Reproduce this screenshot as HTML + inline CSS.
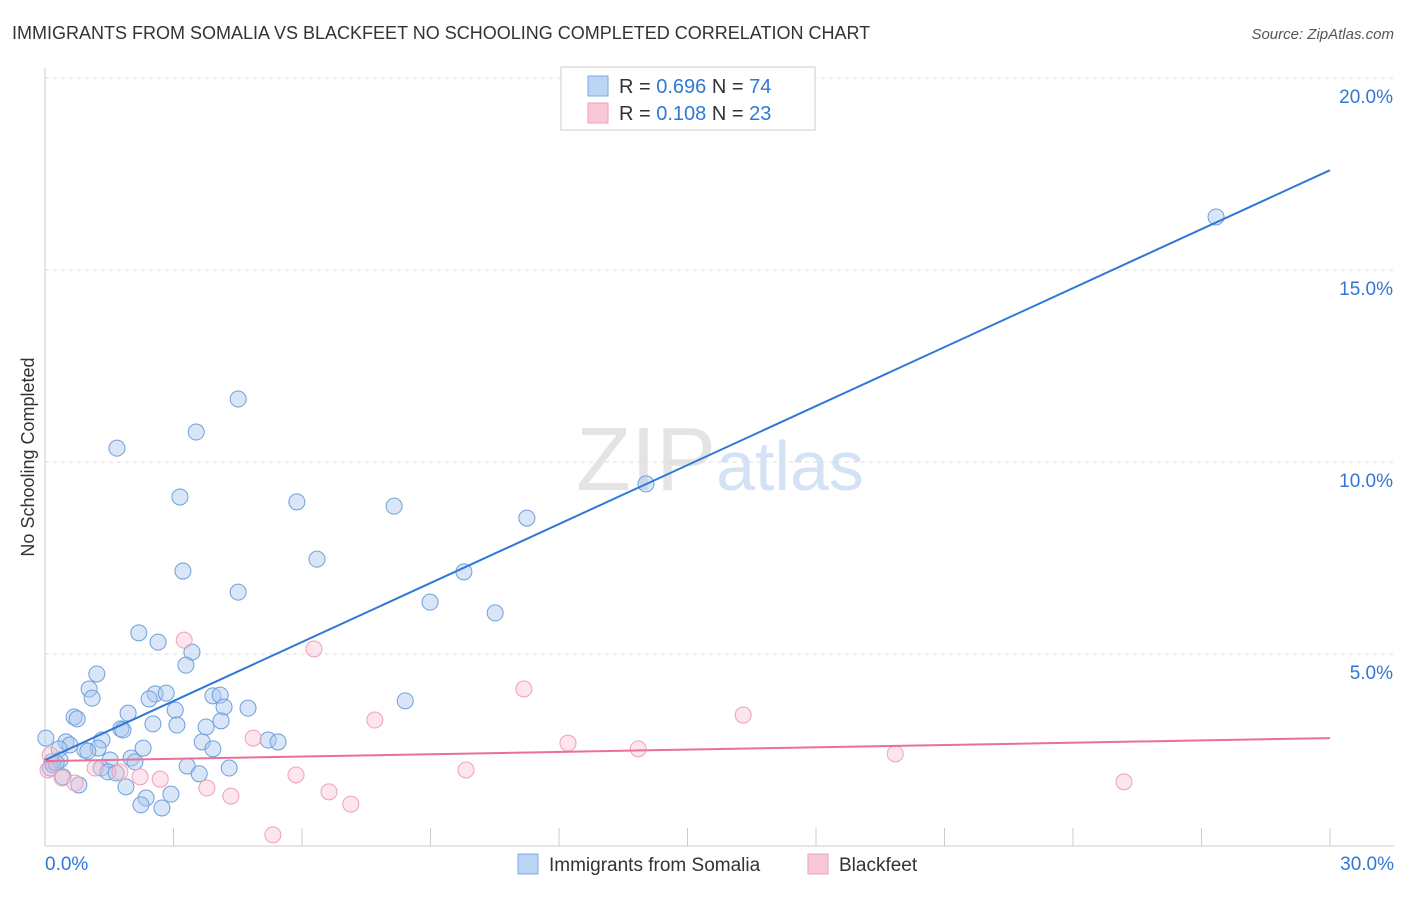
<!DOCTYPE html>
<html><head><meta charset="utf-8"><style>
body{margin:0;background:#fff;font-family:"Liberation Sans",sans-serif;}
svg text{font-family:"Liberation Sans",sans-serif;}
</style></head><body>
<svg id="chart" width="1406" height="892" xmlns="http://www.w3.org/2000/svg">
<text x="12" y="39" font-size="18" fill="#333">IMMIGRANTS FROM SOMALIA VS BLACKFEET NO SCHOOLING COMPLETED CORRELATION CHART</text>
<text x="1394" y="39" font-size="15" fill="#555" text-anchor="end" font-style="italic">Source: ZipAtlas.com</text>
<text x="720" y="490" font-size="90" text-anchor="middle" fill="#e4e4e4" font-family="Liberation Serif">ZIP<tspan fill="#d4e2f5" font-family="Liberation Sans" font-size="70">atlas</tspan></text>
<g id="grid"></g><g id="axes"></g><g id="points"></g><g id="lines"></g>
<text transform="translate(34,457) rotate(-90)" font-size="18" fill="#333" text-anchor="middle">No Schooling Completed</text>
<g>
<rect x="561" y="67" width="254" height="63" fill="#fff" stroke="#ccc"/>
<rect x="588" y="76" width="20" height="20" fill="#bcd5f5" stroke="#7aa8e0"/>
<rect x="588" y="103" width="20" height="20" fill="#f9c8d6" stroke="#f0a0b8"/>
<text x="619" y="93" font-size="20" fill="#333">R = <tspan fill="#2f78d8">0.696</tspan>   N = <tspan fill="#2f78d8">74</tspan></text>
<text x="619" y="120" font-size="20" fill="#333">R =  <tspan fill="#2f78d8">0.108</tspan>   N = <tspan fill="#2f78d8">23</tspan></text>
</g>
<g>
<rect x="518" y="854" width="20" height="20" fill="#bcd5f5" stroke="#7aa8e0"/>
<text x="549" y="871" font-size="19" fill="#333">Immigrants from Somalia</text>
<rect x="808" y="854" width="20" height="20" fill="#f9c8d6" stroke="#f0a0b8"/>
<text x="839" y="871" font-size="19" fill="#333">Blackfeet</text>
</g>
</svg>
<script>
const yTicks=[5,10,15,20];
const yTickLabels=["5.0%","10.0%","15.0%","20.0%"];
const xTickLabels=["0.0%","30.0%"];
const blueX=[27.34,14.03,11.25,8.15,5.88,3.15,4.51,3.53,1.68,6.35,3.22,4.51,9.78,8.99,10.51,2.19,2.64,3.43,3.29,1.21,1.03,1.10,2.57,2.83,2.43,3.92,4.09,4.18,4.74,3.04,1.94,0.68,0.75,8.41,1.77,1.82,2.52,3.08,3.76,4.11,0.02,0.49,0.58,1.33,1.24,0.93,1.00,0.33,2.29,3.67,3.92,5.21,5.44,2.01,2.10,1.52,0.35,0.16,0.12,1.31,1.47,1.66,3.32,3.60,4.30,1.89,2.36,2.94,2.24,2.73,0.19,0.26,0.79,0.42];
const blueY=[16.38,9.43,8.54,8.85,8.96,9.09,11.64,10.78,10.36,7.47,7.16,6.61,7.14,6.35,6.07,5.55,5.31,5.05,4.71,4.48,4.09,3.85,3.96,3.98,3.83,3.91,3.93,3.62,3.59,3.54,3.46,3.36,3.31,3.78,3.05,3.02,3.18,3.15,3.10,3.26,2.81,2.71,2.63,2.76,2.55,2.50,2.47,2.53,2.55,2.71,2.53,2.76,2.71,2.29,2.19,2.24,2.24,2.19,2.03,2.03,1.93,1.90,2.08,1.88,2.03,1.54,1.25,1.35,1.07,0.99,2.11,2.16,1.59,1.80];
const pinkX=[0.12,0.07,0.40,0.70,1.17,1.75,2.22,2.69,3.25,3.78,4.34,4.86,5.32,5.86,6.28,6.63,7.14,7.70,9.83,11.18,12.21,13.85,16.30,19.85,25.19];
const pinkY=[2.37,1.98,1.77,1.64,2.03,1.93,1.80,1.74,5.36,1.51,1.30,2.81,0.29,1.85,5.13,1.41,1.09,3.28,1.98,4.09,2.68,2.53,3.41,2.40,1.67];
const blueTrend=[2.24,17.6];
const pinkTrend=[2.21,2.81];
const NS="http://www.w3.org/2000/svg";
const X=v=>45+v*1285/30, Y=v=>846-v*38.4;
function mk(tag,attrs,parent){const e=document.createElementNS(NS,tag);for(const k in attrs)e.setAttribute(k,attrs[k]);document.getElementById(parent).appendChild(e);return e;}
yTicks.forEach((t,i)=>{
 const g=mk('line',{x1:45,x2:1394,y1:Y(t),y2:Y(t),stroke:'#ddd','stroke-dasharray':'4,4'},'grid');
 
 
 const tx=mk('text',{x:1393,y:Y(t)+25,'font-size':19,fill:'#2f78d8','text-anchor':'end'},'grid');
 tx.textContent=yTickLabels[i];
 
 
});
const ax=mk('line',{x1:45,x2:45,y1:68,y2:846,stroke:'#ccc'},'axes');


const bx=mk('line',{x1:45,x2:1394,y1:846,y2:846,stroke:'#ccc'},'axes');


for(let i=0;i<=10;i++){const l=mk('line',{x1:X(i*3),x2:X(i*3),y1:828,y2:846,stroke:'#ccc'},'axes');
 
 }
[[0,xTickLabels[0],'start',45],[30,xTickLabels[1],'end',1394]].forEach(a=>{const t=mk('text',{x:a[3],y:870,'font-size':19,fill:'#2f78d8','text-anchor':a[2]},'axes');t.textContent=a[1];
 
 });
blueX.forEach((v,i)=>{const c=mk('circle',{cx:X(v),cy:Y(blueY[i]),r:8,fill:'rgba(170,200,240,0.45)',stroke:'#6f9fdc','stroke-width':1},'points');
 
 });
pinkX.forEach((v,i)=>{const c=mk('circle',{cx:X(v),cy:Y(pinkY[i]),r:8,fill:'rgba(248,190,208,0.4)',stroke:'#f0a0b8','stroke-width':1},'points');
 
 });
const bl=mk('line',{x1:X(0),y1:Y(blueTrend[0]),x2:X(30),y2:Y(blueTrend[1]),stroke:'#2f78d8','stroke-width':2},'lines');


const pl=mk('line',{x1:X(0),y1:Y(pinkTrend[0]),x2:X(30),y2:Y(pinkTrend[1]),stroke:'#e8709a','stroke-width':2},'lines');


</script>
</body></html>
